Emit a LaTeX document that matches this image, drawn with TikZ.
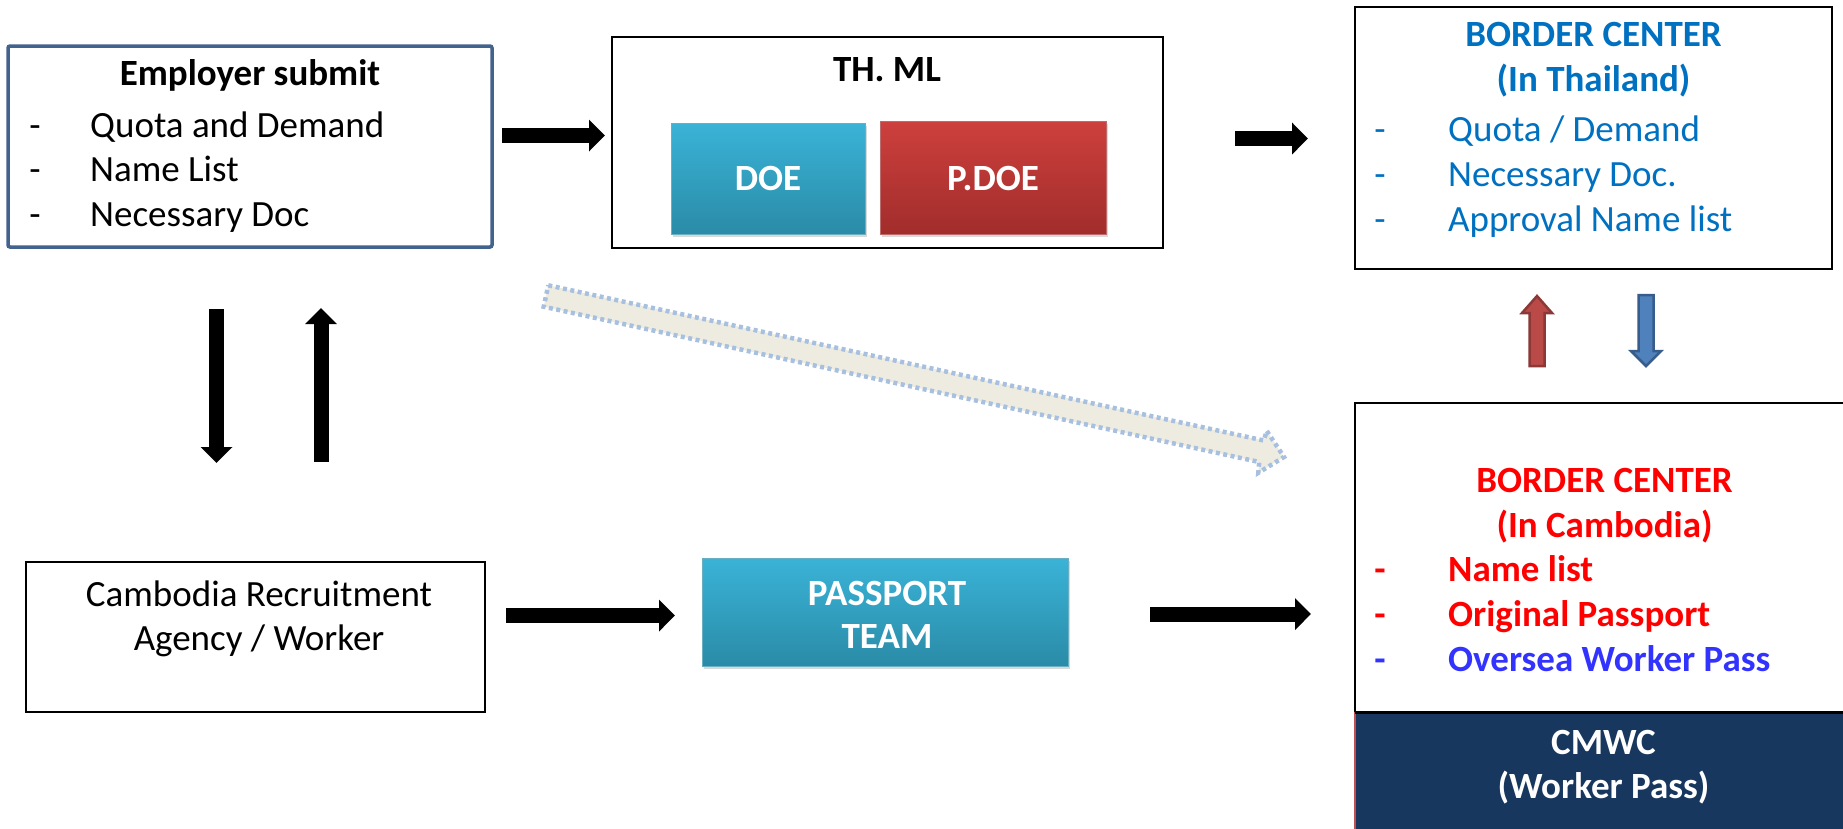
\documentclass[tikz,border=0pt]{standalone}
\usepackage{fontspec}
\setmainfont{Carlito}
\usetikzlibrary{arrows.meta,shadows}
\definecolor{empb}{HTML}{41638E}
\definecolor{thblue}{HTML}{0070C0}
\definecolor{camred}{HTML}{FF0000}
\definecolor{owpblue}{HTML}{3333FF}
\definecolor{navy}{HTML}{17375E}
\definecolor{cmred}{HTML}{C0504D}
\definecolor{tealT}{HTML}{3AB3D7}
\definecolor{tealB}{HTML}{2A8BA7}
\definecolor{redT}{HTML}{CD403D}
\definecolor{redB}{HTML}{A12D2B}
\definecolor{diagF}{HTML}{EEECE1}
\definecolor{diagD}{HTML}{A7C0E0}
\definecolor{rarrF}{HTML}{B94A47}
\definecolor{rarrD}{HTML}{8C3836}
\definecolor{barrF}{HTML}{4F81BD}
\definecolor{barrD}{HTML}{385D8A}
\begin{document}
\begin{tikzpicture}[x=1pt,y=-1pt,
  box/.style={draw=black, line width=2.5pt, inner sep=0pt, outer sep=0pt},
  txt/.style={inner sep=0pt, anchor=base, font=\fontsize{37}{44}\selectfont},
  btxt/.style={inner sep=0pt, anchor=base, font=\fontsize{37}{44}\selectfont\bfseries},
  item/.style={txt, anchor=base west},
  bitem/.style={btxt, anchor=base west},
  tealbox/.style={inner sep=0pt, outer sep=0pt, top color=tealT, bottom color=tealB, draw=tealB!70!white, line width=1pt,
     drop shadow={shadow xshift=2pt, shadow yshift=-3pt, opacity=0.3}},
  redbox/.style={inner sep=0pt, outer sep=0pt, top color=redT, bottom color=redB, draw=redB!70!white, line width=1pt,
     drop shadow={shadow xshift=2pt, shadow yshift=-3pt, opacity=0.3}},
  blk/.style={line width=15pt, -{Triangle[width=31pt,length=16pt]}},
  blockarrow/.style={line width=2.5pt, line join=miter},
]
\useasboundingbox (0,0) rectangle (1843,828);

% Employer submit
\node[box, draw=empb, line width=3.5pt, rounded corners=2pt, minimum width=484pt, minimum height=201pt] (emp) at (250,146.5) {};
\node[btxt] (empT) at (250,85.5) {Employer submit};
\node[txt] (empD1) at (35,137) {-};
\node[item] (empI1) at (90,137) {Quota and Demand};
\node[txt] (empD2) at (35,181.5) {-};
\node[item] (empI2) at (90,181.5) {Name List};
\node[txt] (empD3) at (35,226.5) {-};
\node[item] (empI3) at (90,226.5) {Necessary Doc};

% TH. ML
\node[box, minimum width=551pt, minimum height=211pt] (thml) at (887.5,142.5) {};
\node[btxt] (thmlT) at (887,81.5) {TH. ML};
\node[tealbox, minimum width=194pt, minimum height=111pt] (doe) at (768,178.5) {};
\node[btxt, white] (doeT) at (768,190) {DOE};
\node[redbox, minimum width=226pt, minimum height=113pt] (pdoe) at (993,177.5) {};
\node[btxt, white] (pdoeT) at (993,190) {P.DOE};

% Border center Thailand
\node[box, minimum width=477pt, minimum height=262pt] (bth) at (1593.5,138) {};
\node[btxt, thblue] (bthT1) at (1593.5,46.5) {BORDER CENTER};
\node[btxt, thblue] (bthT2) at (1593.5,91.5) {(In Thailand)};
\node[txt, thblue] (bthD1) at (1380,141.5) {-};
\node[item, thblue] (bthI1) at (1448,141.5) {Quota / Demand};
\node[txt, thblue] (bthD2) at (1380,186.5) {-};
\node[item, thblue] (bthI2) at (1448,186.5) {Necessary Doc.};
\node[txt, thblue] (bthD3) at (1380,231.5) {-};
\node[item, thblue] (bthI3) at (1448,231.5) {Approval Name list};

% Border center Cambodia
\node[box, minimum width=495pt, minimum height=309pt] (bcam) at (1602.5,557.5) {};
\node[fill=navy, inner sep=0pt, outer sep=0pt, minimum width=495pt, minimum height=118pt] (cmwc) at (1602.5,771) {};
\draw[cmred, line width=2pt] (cmwc.north west) -- (cmwc.south west);
\draw[black, line width=3pt] (cmwc.north west) -- (cmwc.north east);
\node[btxt, camred] (bcamT1) at (1604.5,492.5) {BORDER CENTER};
\node[btxt, camred] (bcamT2) at (1604.5,537) {(In Cambodia)};
\node[btxt, camred] (bcamD1) at (1380,581.5) {-};
\node[bitem, camred] (bcamI1) at (1448,581.5) {Name list};
\node[btxt, camred] (bcamD2) at (1380,626.5) {-};
\node[bitem, camred] (bcamI2) at (1448,626.5) {Original Passport};
\node[btxt, owpblue] (bcamD3) at (1380,671) {-};
\node[bitem, owpblue] (bcamI3) at (1448,671) {Oversea Worker Pass};
\node[btxt, white] (cmwcT1) at (1603.5,754.5) {CMWC};
\node[btxt, white] (cmwcT2) at (1603.5,798) {(Worker Pass)};

% Cambodia recruitment agency
\node[box, minimum width=459pt, minimum height=150pt] (crec) at (255.5,637) {};
\node[txt] (crecT1) at (259,606.5) {Cambodia Recruitment};
\node[txt] (crecT2) at (259,650) {Agency / Worker};

% Passport team
\node[tealbox, minimum width=366pt, minimum height=108pt] (pass) at (885,612) {};
\node[btxt, white] (passT1) at (887,605) {PASSPORT};
\node[btxt, white] (passT2) at (887,648) {TEAM};

% black arrows
\draw[blk] ([xshift=10pt,yshift=11pt]emp.east) -- ([xshift=-7pt,yshift=7pt]thml.west);
\draw[blk] ([xshift=72pt,yshift=4pt]thml.east) -- ([xshift=-47pt,yshift=-0.5pt]bth.west);
\draw[blk] ([xshift=-33.5pt,yshift=-62pt]emp.south) -- ([xshift=-39pt,yshift=99pt]crec.north);
\draw[blk] ([xshift=65.5pt,yshift=100pt]crec.north) -- ([xshift=71pt,yshift=-61pt]emp.south);
\draw[blk] ([xshift=21pt,yshift=21.5pt]crec.east) -- ([xshift=-27pt,yshift=-3.5pt]pass.west);
\draw[blk] ([xshift=82pt,yshift=-2pt]pass.east) -- ([xshift=-44pt,yshift=-56.5pt]bcam.west);

% red up / blue down block arrows between the border centers
\coordinate (ru) at (1537,366);
\coordinate (bd) at (1646,295);
\draw[blockarrow, fill=rarrF, draw=rarrD] ([xshift=-7.5pt]ru) -- ++(0,-53) -- ++(-7.5,0) -- ++(15,-17) -- ++(15,17) -- ++(-7.5,0) -- ++(0,53) -- cycle;
\draw[blockarrow, fill=barrF, draw=barrD] ([xshift=-7.5pt]bd) -- ++(0,56) -- ++(-7.5,0) -- ++(15,15) -- ++(15,-15) -- ++(-7.5,0) -- ++(0,-56) -- cycle;

% diagonal dotted arrow
\coordinate (dA1) at (548.3,285.3);
\coordinate (dB1) at (1263.8,440.5);
\coordinate (dC1) at (1266.7,430.8);
\coordinate (dTip) at (1284,457);
\coordinate (dC2) at (1258.3,472.8);
\coordinate (dB2) at (1259.2,462.0);
\coordinate (dA2) at (543.7,306.7);
\draw[fill=diagF, draw=diagD, line width=4.5pt, dash pattern=on 4pt off 3.5pt, line join=miter]
  (dA1) -- (dB1) -- (dC1) -- (dTip) -- (dC2) -- (dB2) -- (dA2) -- cycle;
\end{tikzpicture}
\end{document}
